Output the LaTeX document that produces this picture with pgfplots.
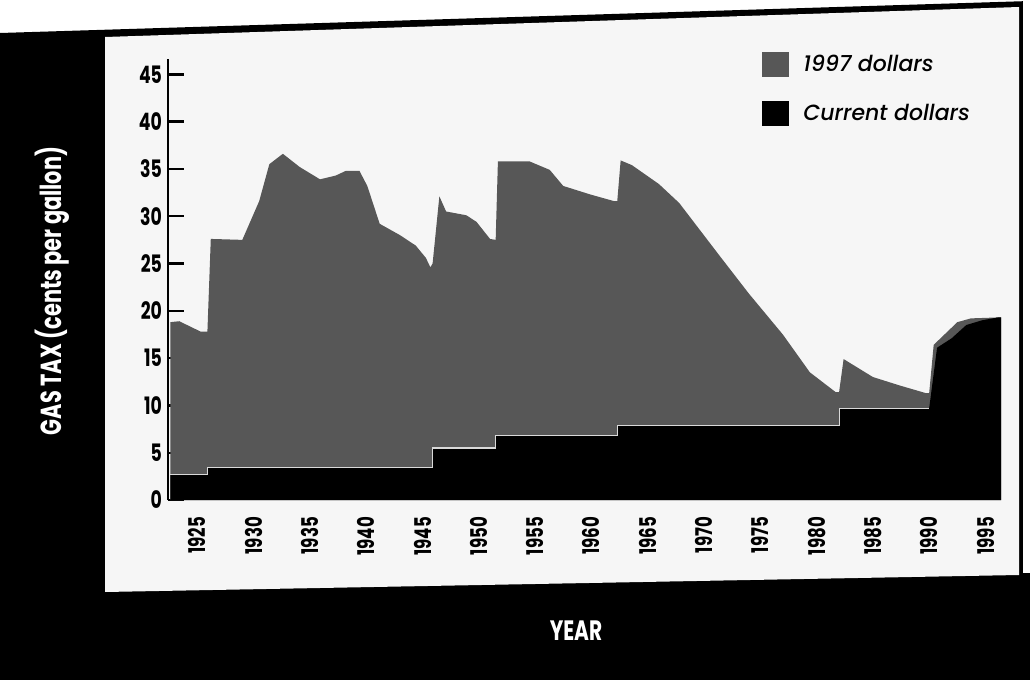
\documentclass[border=0pt]{standalone}
\usepackage{pgfplots}
\pgfplotsset{compat=1.18}
\usepackage{fontspec}
\setmainfont{Poppins}
\newfontfamily\condfont{Poppins}[FakeStretch=0.72]
\newfontfamily\legfont{Poppins Medium Italic}
\definecolor{panel}{gray}{0.965}
\definecolor{oldgray}{gray}{0.34}

\begin{document}
\begin{tikzpicture}
\begin{scope}[x=0.5pt,y=-0.5pt]
\path[use as bounding box] (0,0) rectangle (1030,680);
\fill[white] (0,0) rectangle (1030,680);
\fill[black] (0,33) -- (1030,1) -- (1030,680) -- (0,680) -- cycle;
\fill[panel] (105,37) -- (1019,7) -- (1019,575) -- (105,592) -- cycle;
\fill[white] (1023,0) -- (1030,0) -- (1030,573) -- (1023,573) -- cycle;
\node[white, rotate=90, font=\condfont\bfseries\fontsize{14.5}{14.5}\selectfont] at (52,291) {GAS TAX (cents per gallon)};
\node[white, font=\condfont\bfseries\fontsize{14}{14}\selectfont] at (576,631) {YEAR};
\end{scope}
\begin{axis}[
  at={(84pt,-250pt)}, anchor=south west,
  scale only axis, width=420pt, height=220.4pt,
  xmin=1922.4, xmax=1997, ymin=0, ymax=46.6,
  axis x line*=bottom, axis y line*=left, separate axis lines,
  x axis line style={draw=none},
  y axis line style={line width=1.3pt, -},
  ytick={0,5,...,45}, xtick={1925,1930,...,1995},
  tick align=inside, major tick length=8pt,
  y tick style={line width=1.2pt, black},
  x tick style={draw=none},
  /pgf/number format/assume math mode=true,
  /pgf/number format/1000 sep={},
  yticklabel style={font=\condfont\bfseries\fontsize{12}{12}\selectfont, xshift=0.5pt},
  xticklabel shift=5pt,
  xticklabel style={rotate=90, anchor=east, font=\condfont\bfseries\fontsize{11.5}{11.5}\selectfont},
  legend style={at={(0.700,1.029)}, anchor=north west, draw=none, fill=none,
    font=\legfont\fontsize{11}{11}\selectfont, row sep=11pt, cells={anchor=west},
    /tikz/every odd column/.append style={column sep=5pt}},
  legend image code/.code={\fill[#1] (0pt,-6.2pt) rectangle (13.5pt,6.2pt);},
]
\addplot[fill=oldgray, draw=none] coordinates {
(1922.6,18.8) (1923.4,18.9) (1925.3,17.8) (1925.9,17.8) (1926.2,27.6) (1929.0,27.5)
(1930.5,31.6) (1931.4,35.5) (1932.6,36.6) (1934.1,35.2) (1935.9,33.9) (1937.3,34.3)
(1938.2,34.8) (1939.4,34.8) (1940.1,33.2) (1941.2,29.2) (1943.0,28.0) (1944.4,26.9)
(1945.3,25.6) (1945.7,24.6) (1945.9,25.0) (1946.5,32.1) (1947.1,30.5) (1948.9,30.1)
(1949.8,29.4) (1951.0,27.6) (1951.5,27.5) (1951.7,35.8) (1954.5,35.8) (1956.3,34.9)
(1957.5,33.2) (1959.9,32.3) (1962.0,31.6) (1962.3,31.6) (1962.6,35.9) (1963.6,35.4)
(1966.0,33.4) (1967.8,31.4) (1969.6,28.6) (1971.4,25.8) (1974.0,21.8) (1977.0,17.5)
(1979.4,13.5) (1981.7,11.4) (1982.0,11.4) (1982.4,14.9) (1985.0,13.0) (1987.4,12.1)
(1989.7,11.3) (1990.0,11.3) (1990.4,16.4) (1992.5,18.8) (1993.7,19.2) (1996.1,19.3)
(1996.4,19.3)
} \closedcycle;
\addlegendentry{1997 dollars}
\addplot[fill=black, draw=none] coordinates {
(1922.6,2.7) (1925.9,2.7) (1925.9,3.4) (1945.9,3.4) (1945.9,5.5) (1951.5,5.5)
(1951.5,6.8) (1962.3,6.8) (1962.3,7.9) (1982.0,7.9) (1982.0,9.7) (1990.0,9.7)
(1990.7,16.1) (1992.0,17.1) (1993.3,18.5) (1994.7,19.0) (1996.1,19.3) (1996.4,19.3)
} \closedcycle;
\addlegendentry{Current dollars}
\addplot[draw=white!85!black, line width=0.6pt, forget plot] coordinates {
(1922.6,2.7) (1925.9,2.7) (1925.9,3.4) (1945.9,3.4) (1945.9,5.5) (1951.5,5.5)
(1951.5,6.8) (1962.3,6.8) (1962.3,7.9) (1982.0,7.9) (1982.0,9.7) (1990.0,9.7)
};
\end{axis}
\end{tikzpicture}
\end{document}
